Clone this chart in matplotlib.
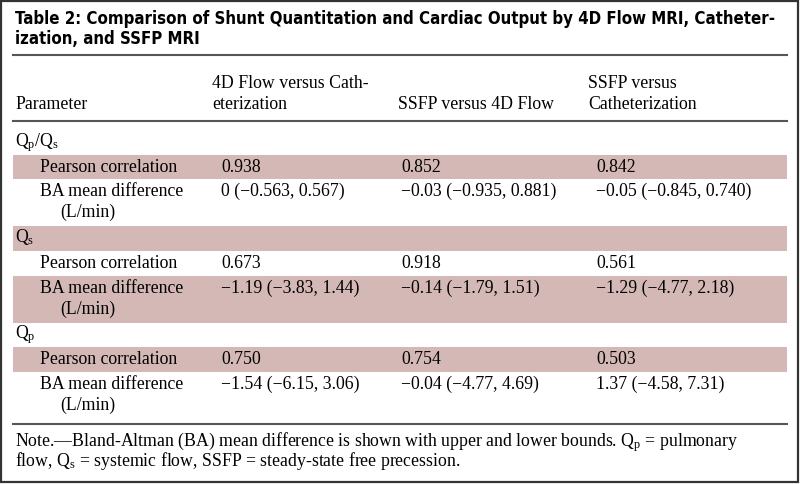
import matplotlib
matplotlib.use("Agg")
import matplotlib.pyplot as plt
from matplotlib import font_manager

# table content
title_lines = [
    "Table 2: Comparison of Shunt Quantitation and Cardiac Output by 4D Flow MRI, Catheter-",
    "ization, and SSFP MRI",
]
col_headers = [
    ["Parameter"],
    ["4D Flow versus Cath-", "eterization"],
    ["SSFP versus 4D Flow"],
    ["SSFP versus", "Catheterization"],
]
groups = [r"$\mathrm{Q_p/Q_s}$", r"$\mathrm{Q_s}$", r"$\mathrm{Q_p}$"]
measures = [["Pearson correlation"], ["BA mean difference", "(L/min)"]]
pearson_r = [
    ["0.938", "0.852", "0.842"],
    ["0.673", "0.918", "0.561"],
    ["0.750", "0.754", "0.503"],
]
ba_diff = [
    ["0 (\u22120.563, 0.567)", "\u22120.03 (\u22120.935, 0.881)", "\u22120.05 (\u22120.845, 0.740)"],
    ["\u22121.19 (\u22123.83, 1.44)", "\u22120.14 (\u22121.79, 1.51)", "\u22121.29 (\u22124.77, 2.18)"],
    ["\u22121.54 (\u22126.15, 3.06)", "\u22120.04 (\u22124.77, 4.69)", "1.37 (\u22124.58, 7.31)"],
]
note_lines = [
    "Note.\u2014Bland-Altman (BA) mean difference is shown with upper and lower bounds. "
    r"$\mathrm{Q_p}$ = pulmonary",
    r"flow, $\mathrm{Q_s}$ = systemic flow, SSFP = steady-state free precession.",
]

fonts = font_manager.fontManager.ttflist
names = {f.name for f in fonts}
title_kw = {"family": "DejaVu Sans", "weight": "bold"}
if "Liberation Sans Narrow" in names:
    title_kw = {"family": "Liberation Sans Narrow", "weight": "bold"}
elif any(f.name == "DejaVu Sans" and f.stretch == "condensed" for f in fonts):
    title_kw = {"family": "DejaVu Sans", "weight": "bold", "stretch": "condensed"}
serif = "Liberation Serif"

plt.rcParams["mathtext.fontset"] = "custom"
plt.rcParams["mathtext.rm"] = serif
plt.rcParams["mathtext.it"] = serif + ":italic"

shade = "#d4b8b6"
rule = "#555555"
fs = 12.8

fig = plt.figure(figsize=(8, 4.84), dpi=100)
ax = fig.add_axes([0, 0, 1, 1])
ax.set_xlim(0, 800)
ax.set_ylim(484, 0)
ax.axis("off")

# outer frame
ax.add_patch(plt.Rectangle((1, 1), 797, 481, fill=False, edgecolor="#333333", lw=1.6))

# title, sized so the first line spans the same width as the reference
renderer = fig.canvas.get_renderer()
probe = ax.text(0, 0, title_lines[0], fontsize=14, **title_kw)
w = probe.get_window_extent(renderer).width
probe.remove()
title_fs = min(14 * 768 / w, 14.5)
for i, line in enumerate(title_lines):
    ax.text(15, 24 + i * 20, line, fontsize=title_fs, va="baseline", ha="left",
            color="black", **title_kw)
ax.plot([13, 787], [55, 55], color=rule, lw=1.5)

# header
head_x = [15, 212, 398, 588]
for x, lines in zip(head_x, col_headers):
    start = 109 - 20.5 * (len(lines) - 1)
    for j, line in enumerate(lines):
        ax.text(x, start + j * 20.5, line, family=serif, fontsize=fs, va="baseline")
ax.plot([13, 787], [121, 121], color=rule, lw=1.5)

# body rows
data_x = [221, 401, 596]
single_h = 24.7
double_h = 47
y = 130
row = 0
for g, label in enumerate(groups):
    # group heading row
    if row % 2 == 1:
        ax.add_patch(plt.Rectangle((13, y), 774, single_h, color=shade, lw=0))
    ax.text(15, y + 16, label, family=serif, fontsize=fs, va="baseline")
    y += single_h
    row += 1
    for m, mlines in enumerate(measures):
        h = single_h if len(mlines) == 1 else double_h
        if row % 2 == 1:
            ax.add_patch(plt.Rectangle((13, y), 774, h, color=shade, lw=0))
        for j, line in enumerate(mlines):
            ax.text(40 if j == 0 else 60, y + 17 + j * 21, line, family=serif,
                    fontsize=fs, va="baseline")
        vals = pearson_r[g] if m == 0 else ba_diff[g]
        for x, v in zip(data_x, vals):
            ax.text(x, y + 17, v, family=serif, fontsize=fs, va="baseline")
        y += h
        row += 1

ax.plot([13, 787], [424, 424], color=rule, lw=1.5)

# footnote
for i, line in enumerate(note_lines):
    ax.text(15, 446 + i * 20.5, line, family=serif, fontsize=fs, va="baseline")

fig.savefig("out.png", dpi=100)
